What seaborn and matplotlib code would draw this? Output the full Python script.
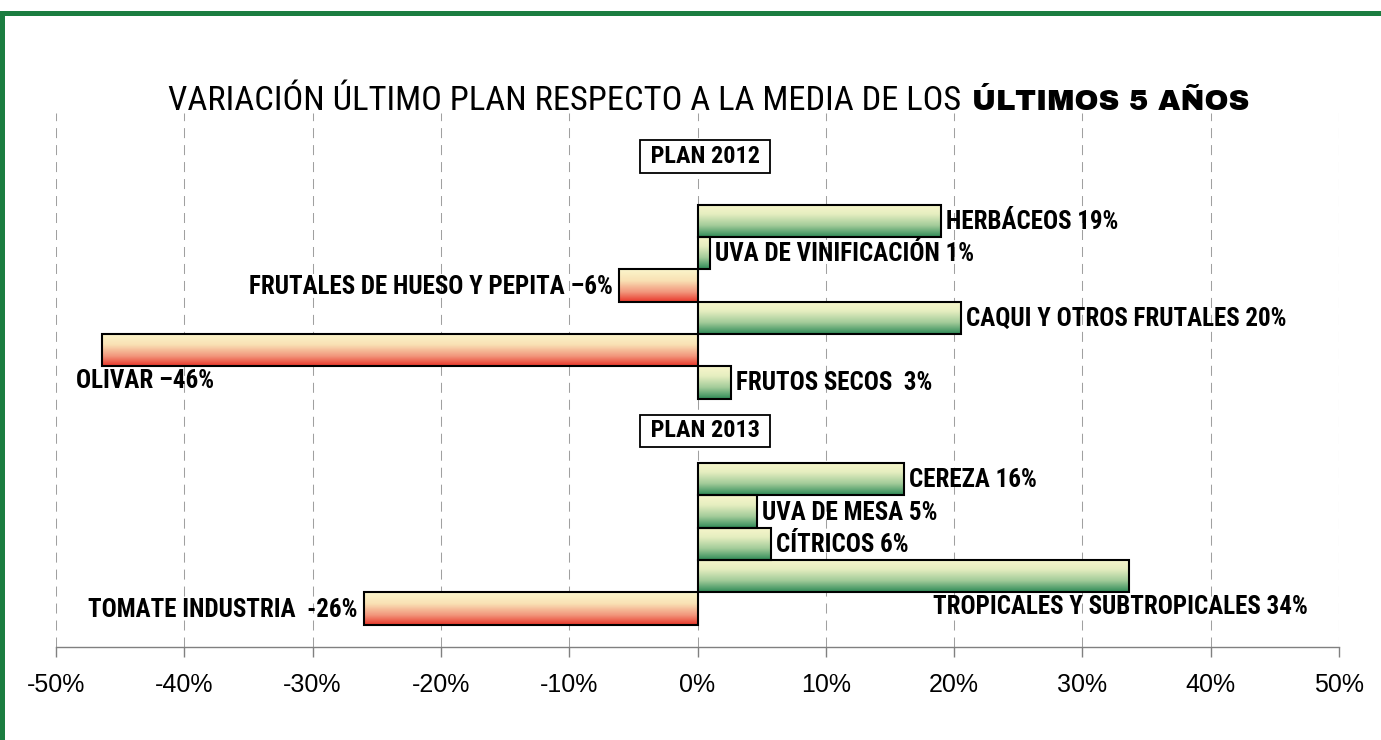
"""
Variación último plan respecto a la media de los últimos 5 años.
Barras horizontales con degradado (verde = positivo, rojo = negativo).
"""

import numpy as np
import pandas as pd
import matplotlib.pyplot as plt
import seaborn as sns
from matplotlib.colors import LinearSegmentedColormap
from matplotlib.patches import Rectangle
from matplotlib.ticker import FuncFormatter, MultipleLocator

# Datos (variación % respecto a la media de los últimos 5 años)
grupos = ["PLAN 2012", "PLAN 2013"]

cultivos_2012 = ["HERBÁCEOS", "UVA DE VINIFICACIÓN", "FRUTALES DE HUESO Y PEPITA",
                 "CAQUI Y OTROS FRUTALES", "OLIVAR", "FRUTOS SECOS"]
valores_2012 = [19.0, 1.0, -6.1, 20.5, -46.4, 2.6]
etiquetas_2012 = ["HERBÁCEOS 19%", "UVA DE VINIFICACIÓN 1%", "FRUTALES DE HUESO Y PEPITA –6%",
                  "CAQUI Y OTROS FRUTALES 20%", "OLIVAR –46%", "FRUTOS SECOS  3%"]

cultivos_2013 = ["CEREZA", "UVA DE MESA", "CÍTRICOS", "TROPICALES Y SUBTROPICALES", "TOMATE INDUSTRIA"]
valores_2013 = [16.1, 4.6, 5.7, 33.6, -26.0]
etiquetas_2013 = ["CEREZA 16%", "UVA DE MESA 5%", "CÍTRICOS 6%",
                  "TROPICALES Y SUBTROPICALES 34%", "TOMATE INDUSTRIA  -26%"]

titulo_normal = "VARIACIÓN ÚLTIMO PLAN RESPECTO A LA MEDIA DE LOS"
titulo_negrita = "ÚLTIMOS 5 AÑOS"

# Posición de cada etiqueta respecto a su barra (desplazamiento en píxeles)
colocacion = {
    "OLIVAR": ("center", 43, -31),
    "TROPICALES Y SUBTROPICALES": ("center", -8, -31),
}

VERDE_MARCO = "#1b7d40"
FUENTE_ETIQUETA = ["Roboto Condensed", "DejaVu Sans"]
FUENTE_TITULO = ["Roboto Condensed", "DejaVu Sans"]
FUENTE_NEGRA = ["Archivo Black", "DejaVu Sans"]

# Montar la tabla: cada grupo deja dos huecos para su cabecera
filas = []
cabeceras = []
pos = 0
for grupo, cats, vals, etqs in [(grupos[0], cultivos_2012, valores_2012, etiquetas_2012),
                                (grupos[1], cultivos_2013, valores_2013, etiquetas_2013)]:
    cabeceras.append((grupo, pos - 1.5 if filas else pos - 2))
    for c, v, e in zip(cats, vals, etqs):
        filas.append({"cultivo": c, "valor": v, "etiqueta": e, "pos": pos})
        pos += 1
    pos += 2
df = pd.DataFrame(filas)

sns.set_theme(style="white")
plt.rcParams["font.family"] = ["Liberation Sans", "DejaVu Sans"]
plt.rcParams["text.color"] = "black"

fig = plt.figure(figsize=(13.81, 7.40), dpi=100)
ax = fig.add_axes([56 / 1381, 1 - 647 / 740, (1339 - 56) / 1381, (647 - 113) / 740])

sns.barplot(data=df, x="valor", y="pos", orient="y", native_scale=True, width=1.0,
            color="white", edgecolor="black", linewidth=1.5, errorbar=None, ax=ax)

# Degradados verticales dentro de cada barra
cmap_verde = LinearSegmentedColormap.from_list(
    "verde", [(0, "#f8f6cc"), (0.3, "#e6eec0"), (0.65, "#a3cc9a"), (1, "#2e8a57")])
cmap_rojo = LinearSegmentedColormap.from_list(
    "rojo", [(0, "#fbf6cc"), (0.35, "#f9e1b4"), (0.7, "#f2967c"), (1, "#e8362a")])
degradado = np.linspace(0, 1, 128).reshape(-1, 1)

for p in ax.patches:
    x0, w = p.get_x(), p.get_width()
    y0, h = p.get_y(), p.get_height()
    izq, der = min(x0, x0 + w), max(x0, x0 + w)
    cmap = cmap_verde if (x0 + w) > x0 else cmap_rojo
    ax.imshow(degradado, cmap=cmap, aspect="auto", origin="upper",
              extent=(izq, der, y0 + h, y0), zorder=p.get_zorder() - 0.1,
              interpolation="bilinear")
    p.set_facecolor("none")

# Etiquetas de datos
for _, fila in df.iterrows():
    v = fila["valor"]
    if fila["cultivo"] in colocacion:
        ha, dx, dy = colocacion[fila["cultivo"]]
    elif v >= 0:
        ha, dx, dy = "left", 5, -1
    else:
        ha, dx, dy = "right", -6, -1
    ax.annotate(fila["etiqueta"], xy=(v, fila["pos"]), xytext=(dx, dy),
                textcoords="offset pixels", ha=ha, va="center",
                fontsize=18, fontweight="bold", family=FUENTE_ETIQUETA, color="black")

# Cabeceras de grupo
for nombre, y in cabeceras:
    ax.text(0.6, y, f" {nombre} ", ha="center", va="center", fontsize=17.5, fontweight="bold",
            family=FUENTE_ETIQUETA, color="black",
            bbox=dict(boxstyle="square,pad=0.2", fc="white", ec="black", lw=1.3), zorder=5)

# Ejes
ax.set_xlim(-50, 50)
ax.set_ylim(13.19, -3.34)
ax.xaxis.set_major_locator(MultipleLocator(10))
ax.xaxis.set_major_formatter(FuncFormatter(lambda v, _: f"{v:.0f}%"))
ax.set_yticks([])
ax.set_xlabel("")
ax.set_ylabel("")
ax.grid(axis="x", color="#a0a0a0", lw=0.75, linestyle=(0, (9.6, 6.7)))
ax.set_axisbelow(True)
for lado in ["top", "left", "right"]:
    ax.spines[lado].set_visible(False)
ax.spines["bottom"].set_color("#808080")
ax.spines["bottom"].set_linewidth(1.0)
ax.tick_params(axis="x", bottom=True, length=7, width=1.0, color="#808080",
               pad=12, labelsize=18, labelcolor="black")

# Título en dos partes
t1 = fig.text(168 / 1381, 1 - 110 / 740, titulo_normal, ha="left", va="baseline",
              fontsize=24.8, family=FUENTE_TITULO, color="black")
fig.canvas.draw()
bb = t1.get_window_extent(fig.canvas.get_renderer())
fig.text((bb.x1 + 11) / fig.bbox.width, 1 - 110 / 740, titulo_negrita, ha="left", va="baseline",
         fontsize=20.8, family=FUENTE_NEGRA, color="black")

# Marco verde (arriba e izquierda)
fig.add_artist(Rectangle((0, 1 - 16 / 740), 1, 5 / 740, transform=fig.transFigure,
                         color=VERDE_MARCO, lw=0))
fig.add_artist(Rectangle((0, 0), 5 / 1381, 1 - 11 / 740, transform=fig.transFigure,
                         color=VERDE_MARCO, lw=0))

fig.savefig("out.png", dpi=100, facecolor="white")
